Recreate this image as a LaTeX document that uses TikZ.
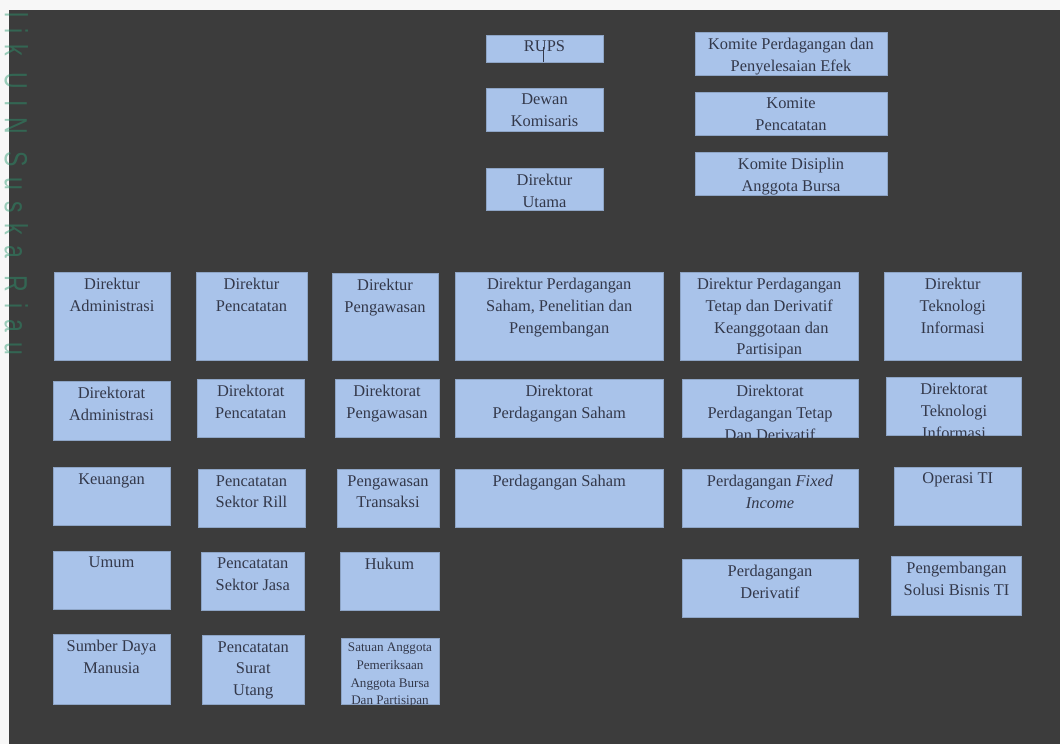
\documentclass[tikz,border=0pt]{standalone}
\usepackage{fontspec}
\setmainfont{Liberation Serif}
\newfontfamily\wmfont[LetterSpace=47]{Liberation Sans}
\usetikzlibrary{fit}
\definecolor{paper}{HTML}{F7F7F7}
\definecolor{bg}{HTML}{3C3C3C}
\definecolor{boxfill}{HTML}{A9C3EA}
\definecolor{boxline}{HTML}{8EA5C6}
\definecolor{ink}{HTML}{33384A}
\definecolor{wmcol}{HTML}{2A9A70}
\tikzset{
  box/.style={draw=boxline, line width=0.8pt, fill=boxfill, inner sep=0pt, outer sep=0pt},
  txt/.style={text=ink, font=\fontsize{16.4}{21.7}\selectfont, align=center, inner sep=0pt},
  smalltxt/.style={font=\fontsize{13.1}{17.7}\selectfont, yshift=1.35pt},
  conn/.style={draw=ink, line width=0.9pt},
  wmtext/.style={text=wmcol, text opacity=0.45, font=\wmfont\fontsize{32}{32}\selectfont, inner sep=0pt}
}
\newcommand\obox[7][]{%
  \node[box, fit={(#3,#4) (#5,#6)}] (#2) {};
  \begin{scope}
    \clip (#2.south west) rectangle (#2.north east);
    \node[txt, anchor=north, #1] (#2-t) at ([yshift=-5.8pt]#2.north) {#7};
  \end{scope}}
\begin{document}
\begin{tikzpicture}[x=1pt, y=-1pt]
\useasboundingbox (0,0) rectangle (1060,744);
\fill[paper] (0,0) rectangle (1060,744);
\fill[bg] (9,10) rectangle (1060,744);

% top
\obox{rups}{486}{35}{603}{62}{RUPS}
\obox{dewan}{486}{88}{603}{131.5}{Dewan\\Komisaris}
\obox{utama}{486}{168}{603}{210.5}{Direktur\\Utama}
\obox{komA}{695}{32}{887}{75}{Komite Perdagangan dan\\Penyelesaian Efek}
\obox{komB}{695}{92}{887}{135}{Komite\\Pencatatan}
\obox{komC}{695}{152.5}{887}{195}{Komite Disiplin\\Anggota Bursa}
\coordinate (rupsmark) at (543.5,46.5);
\draw[conn] (rupsmark) -- (rupsmark |- rups.south);

% row 1
\obox{da}{54}{272.5}{170}{360}{Direktur\\Administrasi}
\obox{dp}{196}{272.5}{307}{360}{Direktur\\Pencatatan}
\obox{dpw}{332}{273.5}{438}{360}{Direktur\\Pengawasan}
\obox{dps}{455.5}{272.5}{663}{360}{Direktur Perdagangan\\Saham, Penelitian dan\\Pengembangan}
\obox{dpt}{680}{272.5}{858.5}{360}{Direktur Perdagangan\\Tetap dan Derivatif\\\ Keanggotaan dan\\Partisipan}
\obox{dti}{884}{272.5}{1021.5}{360}{Direktur\\Teknologi\\Informasi}

% row 2
\obox{ra}{53}{381.5}{170}{440}{Direktorat\\Administrasi}
\obox{rp}{197}{379.5}{304.5}{437.5}{Direktorat\\Pencatatan}
\obox{rpw}{335}{379.5}{439}{437.5}{Direktorat\\Pengawasan}
\obox{rps}{455.5}{379.5}{663}{437.5}{Direktorat\\Perdagangan Saham}
\obox{rpt}{682}{379.5}{858}{437.5}{Direktorat\\Perdagangan Tetap\\Dan Derivatif}
\obox{rti}{886.5}{377.5}{1021.5}{435.5}{Direktorat\\Teknologi\\Informasi}

% row 3
\obox{keu}{53}{467.5}{170}{525}{Keuangan}
\obox{psr}{198}{469.5}{305}{527.5}{Pencatatan\\Sektor Rill}
\obox{pt}{337}{469.5}{439}{527.5}{Pengawasan\\Transaksi}
\obox{ps}{455.5}{469.5}{663}{527.5}{Perdagangan Saham}
\obox{pfi}{682}{469.5}{858}{527.5}{Perdagangan \textit{Fixed}\\\textit{Income}}
\obox{oti}{894}{467}{1021.5}{525}{Operasi TI}

% row 4
\obox{umum}{53}{551}{170}{609}{Umum}
\obox{psj}{201}{552}{304.5}{610}{Pencatatan\\Sektor Jasa}
\obox{hukum}{340}{552}{439}{610}{Hukum}
\obox{pd}{682}{559}{858}{617}{Perdagangan\\Derivatif}
\obox{psb}{891.5}{556.5}{1021.5}{615}{Pengembangan\\Solusi Bisnis TI}

% row 5
\obox{sdm}{53}{634.5}{170}{704.5}{Sumber Daya\\Manusia}
\obox{psu}{202}{635.5}{304.5}{704.5}{Pencatatan\\Surat\\Utang}
\obox[smalltxt]{sap}{341}{638.5}{439}{704.5}{Satuan Anggota\\Pemeriksaan\\Anggota Bursa\\Dan Partisipan}

% watermark
\node[wmtext, rotate=-90, xscale=0.72, anchor=base west] (wm) at (5,12) {lik UIN Suska Riau};
\end{tikzpicture}
\end{document}
